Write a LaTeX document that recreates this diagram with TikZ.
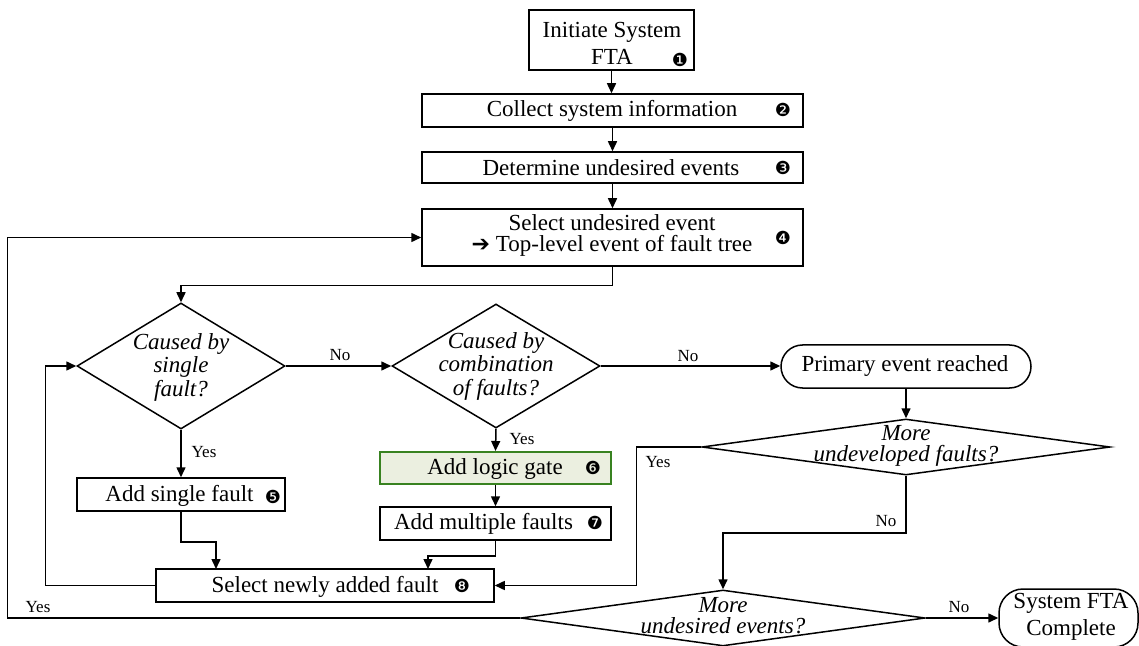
\documentclass[tikz,border=0pt]{standalone}
\usepackage{fontspec}
\setmainfont{Liberation Serif}
\newfontfamily\dingfont{DejaVu Sans}
\usetikzlibrary{shapes.geometric,arrows.meta}

\definecolor{gateline}{RGB}{56,130,32}
\definecolor{gatefill}{RGB}{235,239,224}

\begin{document}
\begin{tikzpicture}[x=0.5pt,y=-0.5pt,
  line width=0.75pt,
  box/.style={draw,rectangle,inner sep=0pt},
  gatebox/.style={box,draw=gateline,fill=gatefill,line width=1pt},
  dec/.style={draw,diamond,inner sep=0pt},
  term/.style={draw,rectangle,inner sep=0pt},
  txt/.style={inner sep=0pt,align=center,font=\fontsize{11.5}{13.5}\selectfont},
  qtxt/.style={inner sep=0pt,align=center,font=\fontsize{11.5}{11.75}\selectfont\itshape},
  lbl/.style={inner sep=0pt,font=\fontsize{8.5}{10}\selectfont},
  num/.style={inner sep=0pt,font=\dingfont\fontsize{9}{9}\selectfont},
  arr/.style={-{Triangle[length=5pt,width=4.5pt]}},
]
\useasboundingbox (0,0) rectangle (1139,646);

% process boxes
\node[box,minimum width=82.5pt,minimum height=30pt] (b1) at (611.5,40) {};
\node[box,minimum width=190.5pt,minimum height=16.5pt] (b2) at (612.5,110.5) {};
\node[box,minimum width=190.5pt,minimum height=15.5pt] (b3) at (612.5,167.5) {};
\node[box,minimum width=190.5pt,minimum height=28.5pt] (b4) at (612.5,237.5) {};
\node[box,minimum width=104pt,minimum height=16.5pt] (b5) at (181,494.5) {};
\node[gatebox,minimum width=115.5pt,minimum height=16pt] (b6) at (495.5,468) {};
\node[box,minimum width=115.5pt,minimum height=16.5pt] (b7) at (495.5,523.5) {};
\node[box,minimum width=169pt,minimum height=16.5pt] (b8) at (325,585.5) {};

% decisions
\node[dec,minimum width=104pt,minimum height=63pt] (d1) at (181,366) {};
\node[dec,minimum width=104pt,minimum height=62pt] (d2) at (496,366) {};
\node[dec,minimum width=204pt,minimum height=28pt] (d3) at (906,447) {};
\node[dec,minimum width=202pt,minimum height=28pt] (d4) at (723,618) {};

% terminals
\node[term,rounded corners=10.75pt,minimum width=125pt,minimum height=21.5pt] (pe) at (906,366.5) {};
\node[term,rounded corners=12pt,minimum width=69.5pt,minimum height=29pt] (fin) at (1068.5,618) {};

% box texts
\node[txt] (t1) at (612,43) {Initiate System\\FTA};
\node[txt] (t2) at (612,111) {Collect system information};
\node[txt] (t3) at (611,168) {Determine undesired events};
\node[txt,font=\fontsize{11.5}{10.5}\selectfont] (t4) at (612,235) {Select undesired event\\{\dingfont\fontsize{11}{10}\selectfont ➔} Top-level event of fault tree};
\node[txt] (t5) at (179.5,496) {Add single fault};
\node[txt] (t6) at (495,469) {Add logic gate};
\node[txt] (t7) at (483.5,524) {Add multiple faults};
\node[txt] (t8) at (325,587) {Select newly added fault};
\node[txt] (tpe) at (905,366) {Primary event reached};
\node[txt] (tfin) at (1071,616.5) {System FTA\\Complete};

% step numbers
\node[num] (n1) at (680,60) {❶};
\node[num] (n2) at (783,110) {❷};
\node[num] (n3) at (783,168) {❸};
\node[num] (n4) at (783,238) {❹};
\node[num] (n5) at (273,497) {❺};
\node[num] (n6) at (593,468) {❻};
\node[num] (n7) at (595,523) {❼};
\node[num] (n8) at (462,586) {❽};

% decision texts
\node[qtxt] (q1) at (181,367) {Caused by\\single\\fault?};
\node[qtxt] (q2) at (496,366) {Caused by\\combination\\of faults?};
\node[qtxt,font=\fontsize{11.5}{10.5}\selectfont\itshape] (q3) at (906,446) {More\\undeveloped faults?};
\node[qtxt,font=\fontsize{11.5}{10.5}\selectfont\itshape] (q4) at (723,616) {More\\undesired events?};

% branch labels
\node[lbl] (l1) at (340,355) {No};
\node[lbl] (l2) at (688,356) {No};
\node[lbl] (l3) at (204,452) {Yes};
\node[lbl] (l4) at (522,439) {Yes};
\node[lbl] (l5) at (658,462) {Yes};
\node[lbl] (l6) at (886,521) {No};
\node[lbl] (l7) at (959,607) {No};
\node[lbl] (l8) at (38,607) {Yes};

% entry points on the top of the last box
\coordinate (b8in1) at (216,569);
\coordinate (b8in2) at (428,569);

% connectors
\draw[arr] (b1.south) -- (b1.south |- b2.north);
\draw[arr] (b2) -- (b3);
\draw[arr] (b3) -- (b4);
\draw[arr] (b4.south) -- ++(0,19) -| (d1.north);
\draw[arr] (d1.east) -- (d2.west);
\draw[arr] (d2.east) -- (d2.east -| pe.west);
\draw[arr] (pe.south) -- (d3.north);
\draw[arr] (d1.south) -- (b5.north);
\draw[arr] (d2.south) -- (b6.north);
\draw[arr] (b6.south) -- (b7.north);
\draw[arr] (b5.south) -- ++(0,30) -| (b8in1);
\draw[arr] (b7.south) -- ++(0,15) -| (b8in2);
\draw[arr] (b8.west) -- ++(-110,0) |- (d1.west);
\draw[arr] (d3.west) -- ++(-65,0) |- (b8.east);
\draw[arr] (d3.south) -- ++(0,57) -| (d4.north);
\draw[arr] (d4.east) -- (fin.west);
\draw[arr] (d4.west) -- ++(-513,0) |- (b4.west);
\end{tikzpicture}
\end{document}
